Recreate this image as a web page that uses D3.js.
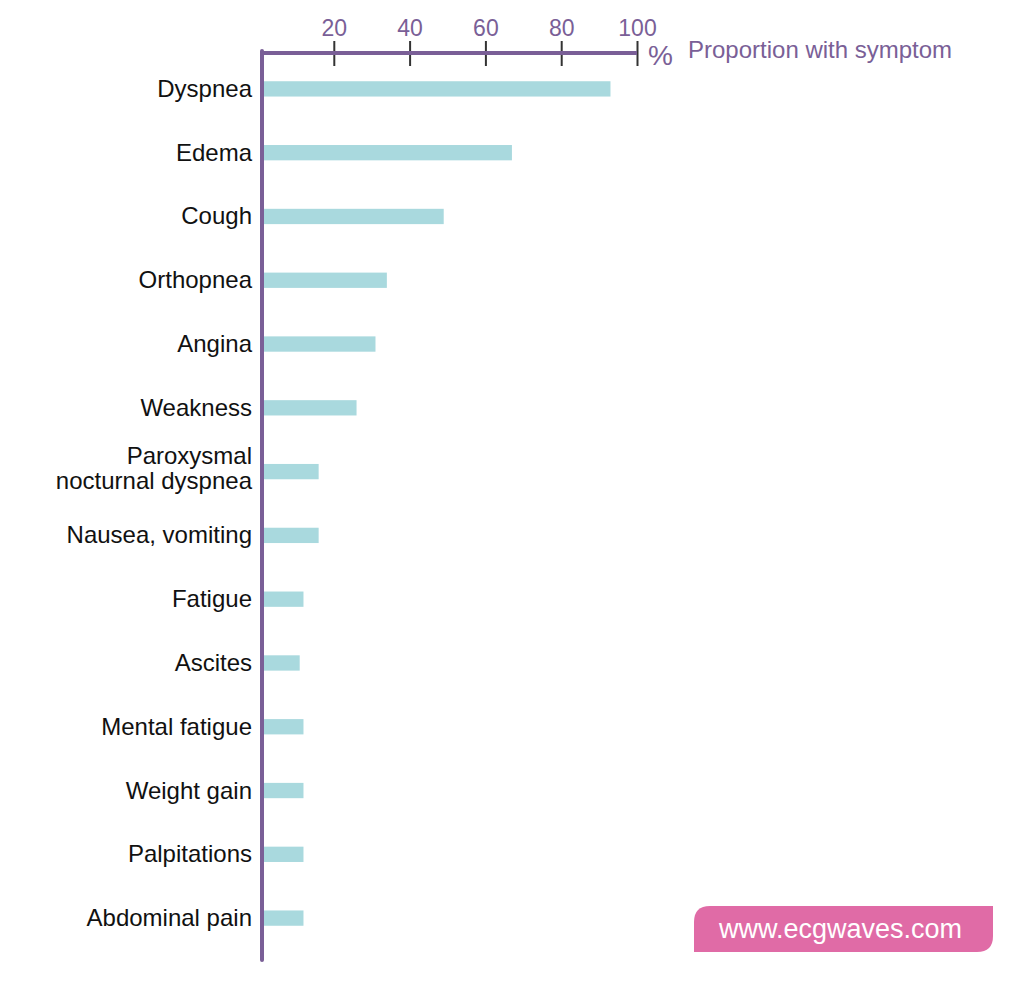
<!DOCTYPE html>
<html><head><meta charset="utf-8">
<script src="https://cdn.jsdelivr.net/npm/d3@7/dist/d3.min.js"></script>
<style>body{margin:0;background:#fff}svg{display:block}text{font-family:"Liberation Sans",Arial,sans-serif}</style>
</head><body>
<svg id="c" width="1024" height="984"></svg>
<script>
const symptoms = ["Dyspnea","Edema","Cough","Orthopnea","Angina","Weakness","Paroxysmal\nnocturnal dyspnea","Nausea, vomiting","Fatigue","Ascites","Mental fatigue","Weight gain","Palpitations","Abdominal pain"];
const proportions = [93, 67, 49, 34, 31, 26, 16, 16, 12, 11, 12, 12, 12, 12];
const tickValues = [20, 40, 60, 80, 100];
const axisTitle = "Proportion with symptom";
const watermark = "www.ecgwaves.com";

const purple = "#7a5f97", barColor = "#a9d9de";
const svg = d3.select("#c");
const x = d3.scaleLinear().domain([0, 100]).range([258, 637]);
const y = d3.scaleBand().domain(symptoms).range([57, 950]).paddingInner(0.76).paddingOuter(0.38);

// bars
svg.append("g").selectAll("rect").data(symptoms).join("rect")
  .attr("x", x(0) + 6)
  .attr("y", d => y(d))
  .attr("width", (d, i) => x(proportions[i]) - x(0) - 6)
  .attr("height", y.bandwidth())
  .attr("fill", barColor);

// category labels
const lab = svg.append("g").selectAll("text").data(symptoms).join("text")
  .attr("text-anchor", "end").attr("font-size", 24).attr("fill", "#111")
  .attr("x", 252);
lab.each(function(d) {
  const lines = d.split("\n");
  const cy = y(d) + y.bandwidth() / 2;
  const t = d3.select(this);
  lines.forEach((ln, k) => {
    t.append("tspan").attr("x", 252)
      .attr("y", cy + 8 + (k - (lines.length - 1) / 2) * 25 - (lines.length > 1 ? 3 : 0))
      .text(ln);
  });
});

// top axis
const axisY = 53;
const ax = svg.append("g").attr("transform", `translate(0,${axisY})`)
  .call(d3.axisTop(x).tickValues(tickValues).tickSize(0).tickPadding(0));
ax.select(".domain").remove();
ax.selectAll(".tick line").remove();
ax.selectAll(".tick").append("line").attr("y1", -12).attr("y2", 13)
  .attr("stroke", "#333").attr("stroke-width", 2);
ax.selectAll(".tick text").attr("font-size", 23).attr("fill", purple)
  .attr("font-family", '"Liberation Sans",Arial,sans-serif').attr("dy", -17);
svg.append("line").attr("x1", x(0) + 4).attr("x2", x(100)).attr("y1", axisY).attr("y2", axisY)
  .attr("stroke", purple).attr("stroke-width", 4);
svg.append("line").attr("x1", x(0) + 4).attr("x2", x(0) + 4).attr("y1", axisY - 2).attr("y2", 960)
  .attr("stroke", purple).attr("stroke-width", 4).attr("stroke-linecap", "round");

svg.append("text").attr("x", 648).attr("y", 65).attr("font-size", 28).attr("fill", purple).text("%");
svg.append("text").attr("x", 688).attr("y", 58).attr("font-size", 24).attr("fill", purple).text(axisTitle);

// watermark badge
const bx = 694, by = 906, bw = 299, bh = 46, r = 16;
svg.append("path")
  .attr("d", `M${bx},${by + r} Q${bx},${by} ${bx + r},${by} L${bx + bw},${by} L${bx + bw},${by + bh - r} Q${bx + bw},${by + bh} ${bx + bw - r},${by + bh} L${bx},${by + bh} Z`)
  .attr("fill", "#e06ba6");
svg.append("text").attr("x", bx + bw / 2 - 3).attr("y", by + 32).attr("text-anchor", "middle")
  .attr("font-size", 27).attr("fill", "#fff").text(watermark);
</script>
</body></html>
